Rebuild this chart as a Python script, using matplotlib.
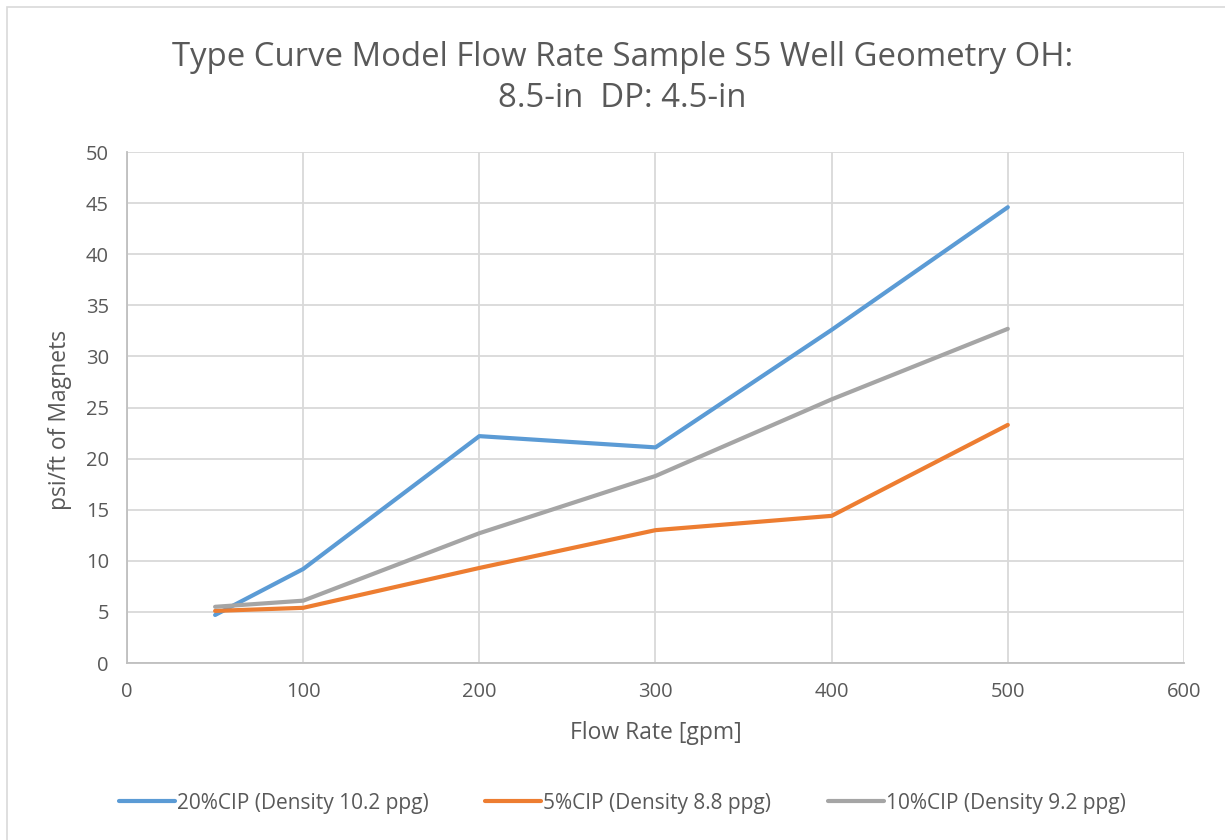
import matplotlib
matplotlib.use("Agg")
import matplotlib.pyplot as plt
from matplotlib.patches import Rectangle

plt.rcParams['font.family'] = ['Open Sans', 'DejaVu Sans']

flow_rate = [50, 100, 200, 300, 400, 500]
cip20 = [4.7, 9.2, 22.2, 21.1, 32.6, 44.6]
cip5 = [5.1, 5.4, 9.3, 13.0, 14.4, 23.3]
cip10 = [5.5, 6.1, 12.7, 18.3, 25.8, 32.7]

labels = ['20%CIP (Density 10.2 ppg)', '5%CIP (Density 8.8 ppg)', '10%CIP (Density 9.2 ppg)']
colors = ['#5b9bd5', '#ed7d31', '#a5a5a5']
text_color = '#595959'
grid_color = '#d9d9d9'

fig = plt.figure(figsize=(12.25, 8.4), dpi=100)
ax = fig.add_axes([0.1037, 0.2107, 0.8628, 0.6083])

# chart border (runs off the right and bottom edges)
fig.patches.append(Rectangle((0.0057, -0.05), 1.1, 1.0417, transform=fig.transFigure,
                             fill=False, edgecolor=grid_color, linewidth=1.2))

for y, c, lab in zip([cip20, cip5, cip10], colors, labels):
    ax.plot(flow_rate, y, color=c, linewidth=3, label=lab, solid_capstyle='round')

ax.set_xlim(0, 600)
ax.set_ylim(0, 50)
ax.set_xticks(range(0, 601, 100))
ax.set_yticks(range(0, 51, 5))
ax.grid(True, color=grid_color, linewidth=1.3)
ax.set_axisbelow(True)
for side in ['top', 'right']:
    ax.spines[side].set_visible(False)
for side in ['left', 'bottom']:
    ax.spines[side].set_color('#bfbfbf')
    ax.spines[side].set_linewidth(1.3)
ax.tick_params(length=0, labelsize=14.5, labelcolor=text_color)
ax.tick_params(axis='x', pad=14)
ax.tick_params(axis='y', pad=13)

fig.text(0.535, 0.127, 'Flow Rate [gpm]', fontsize=16.5, color=text_color,
         ha='center', va='center')
fig.text(0.049, 0.5, 'psi/ft of Magnets', fontsize=16.5, color=text_color,
         ha='center', va='center', rotation=90)
fig.text(0.508, 0.907, 'Type Curve Model Flow Rate Sample S5 Well Geometry OH:\n8.5-in  DP: 4.5-in',
         fontsize=23.7, color=text_color, ha='center', va='center', linespacing=1.35)

fig.legend(loc='center', bbox_to_anchor=(0.508, 0.044), ncol=3, frameon=False,
           fontsize=15, labelcolor=text_color, handlelength=2.7, handletextpad=0.1,
           columnspacing=2.7)

fig.savefig('out.png', dpi=100)
